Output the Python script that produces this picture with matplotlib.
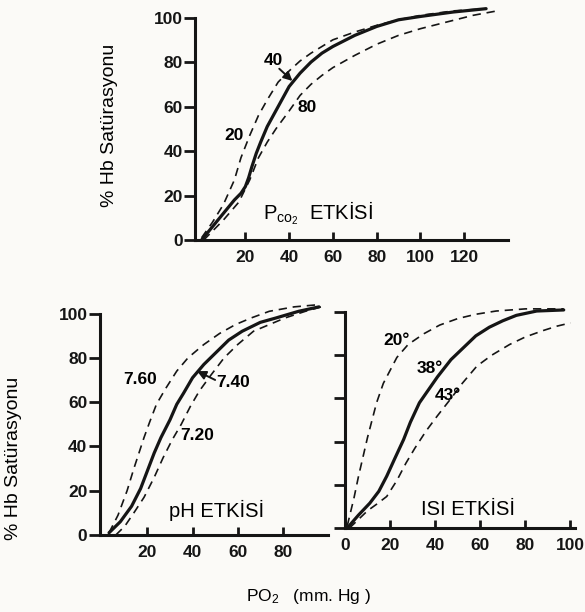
import matplotlib
matplotlib.use('Agg')
import matplotlib.pyplot as plt

plt.rcParams['font.family'] = ['Liberation Sans', 'DejaVu Sans']
plt.rcParams['mathtext.fontset'] = 'custom'
plt.rcParams['mathtext.rm'] = 'Liberation Sans'
plt.rcParams['mathtext.it'] = 'Liberation Sans:italic'
plt.rcParams['mathtext.bf'] = 'Liberation Sans:bold'

# --- PCO2 effect (top panel) ---
co2_40_x = [0, 5, 10, 15, 18, 20, 21.5, 23, 25, 27, 30, 35, 40, 45, 50, 55, 60, 70, 80, 90, 100, 115, 130]
co2_40_y = [0, 6, 12, 18, 21, 24, 28, 33, 39, 44, 51, 60, 69, 75, 80, 84, 87, 92, 96, 99, 100.5, 102.5, 104]
co2_20_x = [0, 5, 10, 15, 18, 22, 26, 30, 35, 40, 45, 50, 60, 70, 80, 90, 100, 115, 130]
co2_20_y = [1, 8, 16, 27, 37, 47, 56, 63, 71, 76, 80.5, 84, 90, 93.5, 96.5, 99, 101, 103, 104]
co2_80_x = [1, 5, 10, 17, 22, 26, 30, 34, 40, 45, 50, 55, 60, 70, 80, 90, 100, 110, 124, 135]
co2_80_y = [0, 4, 9, 17, 27, 37, 44, 50, 58, 65, 70, 74, 77.5, 83, 88, 92, 95, 97.5, 101, 103]

# --- pH effect (bottom left) ---
ph_740_x = [3, 8, 13, 17, 20, 23, 26, 30, 33, 36, 40, 45, 51, 56, 62, 70, 77, 87, 96]
ph_740_y = [1, 6, 13, 21, 29, 37, 44, 52, 59, 64, 71, 77, 83, 88, 92, 96, 98, 101, 103]
ph_760_x = [3, 7, 11, 14, 18.5, 21, 24, 28, 33, 38, 45, 52, 59, 66, 74, 85, 96]
ph_760_y = [1, 9, 20, 30, 44, 51, 59, 66, 74, 80, 86, 91, 95, 98, 101, 103, 104]
ph_720_x = [6, 10, 14, 18.5, 23, 27, 31, 35, 39, 43, 48, 54, 60, 67, 74, 81, 90, 97]
ph_720_y = [0, 4, 10, 17, 26, 35, 43, 50, 58, 65, 72, 80, 86, 92, 95, 98, 101, 103]

# --- temperature effect (bottom right) ---
t38_x = [1, 6, 11, 15, 18.5, 22, 26, 29, 33, 37, 41, 47, 53, 58, 64, 70, 76, 85, 97]
t38_y = [0, 6, 11.5, 17, 24, 32, 41, 49, 58, 64, 70, 78, 84, 89, 93, 96, 98.5, 100.5, 101]
t20_x = [1, 4, 6, 8, 10, 12, 14, 17, 20, 23, 28, 35, 42, 50, 58, 67, 80, 97]
t20_y = [1, 14, 24, 33, 42, 50, 58, 67, 73, 79, 85, 90, 94, 97, 99, 100.5, 101.5, 101.5]
t43_x = [2, 6, 10, 14, 18.5, 23, 27, 31, 36, 41, 47, 52, 58.5, 65, 73, 80, 88, 94, 100]
t43_y = [0, 4, 8, 11, 14.6, 22, 30, 37, 45, 52, 60, 67, 75, 80, 85, 88.5, 91.5, 93.5, 95]

y_ticks = [0, 20, 40, 60, 80, 100]
top_xticks = [20, 40, 60, 80, 100, 120]
left_xticks = [20, 40, 60, 80]
right_xticks = [0, 20, 40, 60, 80, 100]

ink = '#151515'
bg = '#fbfaf7'


def solid(ax, x, y):
    ax.plot(x, y, color=ink, lw=2.3, solid_capstyle='round', solid_joinstyle='round')


def dashed(ax, x, y):
    ax.plot(x, y, color=ink, lw=1.2, dashes=(5, 3.5))


def arrow(ax, head, tail):
    ax.annotate('', xy=head, xytext=tail,
                arrowprops=dict(arrowstyle='-|>', color=ink, lw=1.4, mutation_scale=13,
                                shrinkA=0, shrinkB=0))


def setup(ax, xlim, xticks, ylabels=True):
    ax.set_facecolor(bg)
    ax.set_xlim(*xlim)
    ax.set_ylim(0, 107)
    for s in ['top', 'right']:
        ax.spines[s].set_visible(False)
    for s in ['left', 'bottom']:
        ax.spines[s].set_linewidth(2.2)
        ax.spines[s].set_color(ink)
    ax.spines['left'].set_bounds(0, 100)
    ax.set_xticks(xticks)
    ax.set_xticklabels([str(t) for t in xticks], fontsize=12.5, fontweight='bold')
    ax.set_yticks(y_ticks)
    if ylabels:
        ax.set_yticklabels([str(t) for t in y_ticks], fontsize=12.5, fontweight='bold')
    else:
        ax.set_yticklabels([])
    ax.tick_params(axis='x', direction='in', length=6, width=2, pad=7, colors=ink)
    ax.tick_params(axis='y', direction='out', length=8, width=2, pad=1, colors=ink)


fig = plt.figure(figsize=(5.85, 6.12), dpi=100)
fig.patch.set_facecolor(bg)

# top panel
ax1 = fig.add_axes([195 / 585, 1 - 240 / 612, 313 / 585, 238 / 612])
setup(ax1, (-3, 140), top_xticks)
dashed(ax1, co2_20_x, co2_20_y)
dashed(ax1, co2_80_x, co2_80_y)
solid(ax1, co2_40_x, co2_40_y)
ax1.text(32.6, 80.5, '40', fontsize=12.5, fontweight='bold', ha='center', va='center')
ax1.text(48, 59.5, '80', fontsize=12.5, fontweight='bold', ha='center', va='center')
ax1.text(15, 47, '20', fontsize=12.5, fontweight='bold', ha='center', va='center')
arrow(ax1, (41.5, 71.5), (35.5, 77))
ax1.text(28, 12, r'P$_{\mathrm{co}_2}$  ETKİSİ', fontsize=14.5, ha='left', va='center')

# bottom left panel
ax2 = fig.add_axes([100 / 585, 1 - 535 / 612, 228 / 585, 237 / 612])
setup(ax2, (-1, 100), left_xticks)
dashed(ax2, ph_760_x, ph_760_y)
dashed(ax2, ph_720_x, ph_720_y)
solid(ax2, ph_740_x, ph_740_y)
ax2.text(16.7, 70, '7.60', fontsize=12.5, fontweight='bold', ha='center', va='center')
ax2.text(58, 69, '7.40', fontsize=12.5, fontweight='bold', ha='center', va='center')
ax2.text(42, 45, '7.20', fontsize=12.5, fontweight='bold', ha='center', va='center')
arrow(ax2, (42, 74), (50, 70))
ax2.text(50.8, 11.3, 'pH ETKİSİ', fontsize=14.5, ha='center', va='center')

# bottom right panel
ax3 = fig.add_axes([345 / 585, 1 - 528 / 612, 230 / 585, 231 / 612])
setup(ax3, (0, 102), right_xticks, ylabels=False)
dashed(ax3, t20_x, t20_y)
dashed(ax3, t43_x, t43_y)
solid(ax3, t38_x, t38_y)
ax3.text(23, 87, '20°', fontsize=12.5, fontweight='bold', ha='center', va='center')
ax3.text(37.8, 74, '38°', fontsize=12.5, fontweight='bold', ha='center', va='center')
ax3.text(45.8, 61.5, '43°', fontsize=12.5, fontweight='bold', ha='center', va='center')
ax3.text(54.7, 8.5, 'ISI ETKİSİ', fontsize=14.5, ha='center', va='center')

# shared labels
fig.text(110 / 585, 1 - 125 / 612, '% Hb Satürasyonu', rotation=90, fontsize=14,
         ha='center', va='center')
fig.text(14 / 585, 1 - 458 / 612, '% Hb Satürasyonu', rotation=90, fontsize=14,
         ha='center', va='center')
fig.text(309 / 585, 1 - 597 / 612, r'PO$_2$   (mm. Hg )', fontsize=12.5,
         ha='center', va='center')

fig.savefig('out.png', dpi=100, facecolor=bg)
